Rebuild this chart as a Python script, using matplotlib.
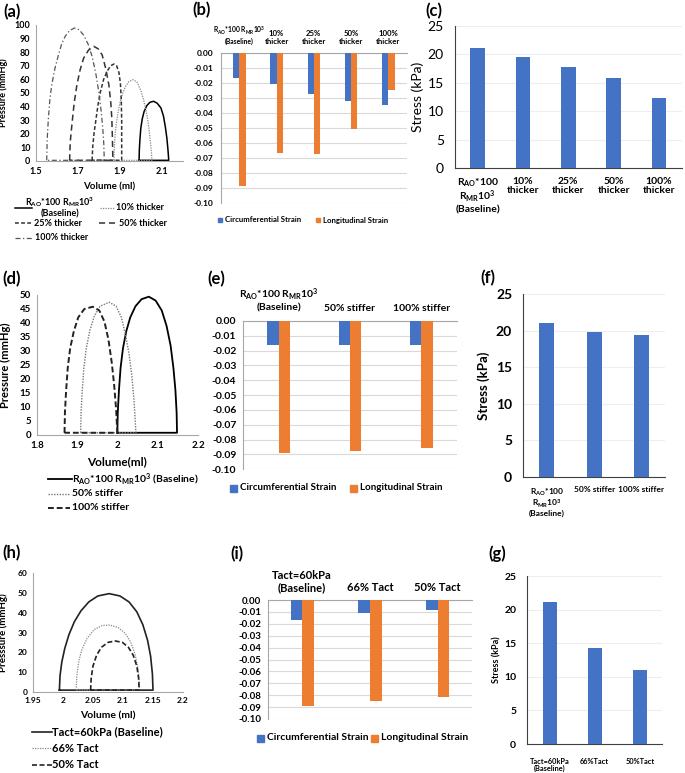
import matplotlib
matplotlib.use('Agg')
import matplotlib.pyplot as plt
from matplotlib.patches import Rectangle

plt.rcParams['font.family'] = ['Lato', 'DejaVu Sans']
plt.rcParams['mathtext.default'] = 'regular'

W, H = 685, 773
BLUE = '#4472C4'
ORANGE = '#ED7D31'
GRID = '#D9D9D9'
AXC = '#A6A6A6'

# (a) pv loops, wall thickness
a_base_v = [1.991, 1.992, 1.995, 1.999, 2.006, 2.015, 2.028, 2.043, 2.06, 2.077, 2.095, 2.107,
            2.116, 2.123, 2.128, 2.131, 2.132, 1.991]
a_base_p = [0.5, 8, 16, 24, 31, 36.5, 40.8, 43.2, 43.9, 42.5, 39, 33, 25, 17, 9, 3, 0.5, 0.5]
a_10_v = [1.871, 1.873, 1.877, 1.883, 1.891, 1.9, 1.911, 1.925, 1.942, 1.962, 1.981, 1.999,
          2.014, 2.027, 2.037, 2.045, 2.05, 2.052, 1.871]
a_10_p = [0.5, 10, 20, 28, 36, 43, 49, 54.5, 58.3, 59.8, 58, 52, 44, 35, 25, 14, 6, 0.5, 0.5]
a_25_v = [1.767, 1.77, 1.776, 1.785, 1.796, 1.807, 1.822, 1.839, 1.855, 1.871, 1.884, 1.895,
          1.902, 1.906, 1.908, 1.908, 1.908, 1.767]
a_25_p = [0.5, 10, 20, 30, 42, 51, 60, 66, 70, 71.3, 70, 65, 57, 45, 30, 15, 0.5, 0.5]
a_50_v = [1.66, 1.663, 1.671, 1.682, 1.695, 1.71, 1.727, 1.75, 1.775, 1.796, 1.815, 1.832,
          1.847, 1.856, 1.861, 1.864, 1.866, 1.66]
a_50_p = [0.5, 14, 26.7, 43, 56, 67, 75.7, 81.5, 84.3, 82.5, 78, 68, 56, 43, 31.6, 16, 0.5, 0.5]
a_100_v = [1.551, 1.553, 1.559, 1.566, 1.575, 1.59, 1.607, 1.622, 1.639, 1.66, 1.684, 1.706,
           1.727, 1.748, 1.767, 1.784, 1.799, 1.81, 1.818, 1.823, 1.825, 1.551]
a_100_p = [0.5, 15, 31.6, 45, 56, 68, 78, 86, 91.7, 96, 97.8, 96.5, 92.5, 86, 77, 65, 51, 37,
           24, 12, 0.5, 0.5]

# (d) pv loops, stiffness
d_base_v = [2.0, 2.001, 2.004, 2.008, 2.014, 2.022, 2.032, 2.045, 2.06, 2.078, 2.095, 2.11,
            2.122, 2.132, 2.139, 2.144, 2.147, 2.148, 2.0]
d_base_p = [0.8, 8, 16, 24, 31, 37, 42, 46, 48.5, 49.4, 48, 44.5, 39, 32, 24, 16, 8, 0.8, 0.8]
d_50_v = [1.909, 1.91, 1.913, 1.917, 1.923, 1.932, 1.943, 1.957, 1.98, 1.997, 2.01, 2.02,
          2.029, 2.036, 2.041, 2.044, 2.046, 1.909]
d_50_p = [0.8, 8, 16, 24, 31, 37.5, 42.5, 46, 47.4, 46, 42, 36, 29, 21, 13, 6, 0.8, 0.8]
d_100_v = [1.869, 1.87, 1.873, 1.877, 1.883, 1.892, 1.903, 1.918, 1.939, 1.955, 1.968, 1.978,
           1.986, 1.992, 1.997, 2.0, 1.869]
d_100_p = [0.8, 8, 16, 24, 31, 37, 42, 45, 45.8, 44.5, 40.5, 34, 26, 18, 9, 0.8, 0.8]

# (h) pv loops, active tension
h_base_v = [1.994, 1.995, 1.998, 2.003, 2.01, 2.019, 2.03, 2.043, 2.058, 2.077, 2.095, 2.11,
            2.123, 2.133, 2.141, 2.146, 2.149, 2.15, 1.994]
h_base_p = [0.8, 8, 15, 22, 29, 35.5, 41, 45.5, 48.5, 49.7, 48.5, 45.5, 40.5, 34, 26, 18, 9,
            0.8, 0.8]
h_66_v = [2.022, 2.023, 2.026, 2.031, 2.04, 2.052, 2.065, 2.078, 2.092, 2.104, 2.113, 2.12,
          2.125, 2.127, 2.127, 2.022]
h_66_p = [0.8, 8, 15, 21, 27, 31.5, 33.5, 33.8, 32.5, 29.5, 25, 19, 12, 5, 0.8, 0.8]
h_50_v = [2.046, 2.047, 2.05, 2.056, 2.064, 2.075, 2.087, 2.099, 2.109, 2.117, 2.123, 2.126,
          2.127, 2.046]
h_50_p = [0.8, 7, 13, 18.5, 22.5, 25, 25.7, 25, 22.5, 18.5, 13, 7, 0.8, 0.8]

# strain bars
b_cats = ['R$_{AO}$*100 R$_{MR}$10$^3$\n(Baseline)', '10%\nthicker', '25%\nthicker',
          '50%\nthicker', '100%\nthicker']
b_circ = [-0.0165, -0.0205, -0.027, -0.032, -0.0345]
b_long = [-0.089, -0.067, -0.0675, -0.051, -0.0245]
e_cats = ['R$_{AO}$*100 R$_{MR}$10$^3$\n(Baseline)', '50% stiffer', '100% stiffer']
e_circ = [-0.0165, -0.016, -0.016]
e_long = [-0.089, -0.0875, -0.0855]
i_cats = ['Tact=60kPa\n(Baseline)', '66% Tact', '50% Tact']
i_circ = [-0.0165, -0.011, -0.0085]
i_long = [-0.089, -0.085, -0.0815]

# stress bars
c_cats = ['R$_{AO}$*100\nR$_{MR}$10$^3$\n(Baseline)', '10%\nthicker', '25%\nthicker',
          '50%\nthicker', '100%\nthicker']
c_vals = [21.1, 19.6, 17.8, 15.8, 12.3]
f_cats = ['R$_{AO}$*100\nR$_{MR}$10$^3$\n(Baseline)', '50% stiffer', '100% stiffer']
f_vals = [21.1, 19.9, 19.4]
g_cats = ['Tact=60kPa\n(Baseline)', '66%Tact', '50%Tact']
g_vals = [21.1, 14.3, 11.0]


def box(l, t, r, b):
    return [l / W, 1 - b / H, (r - l) / W, (b - t) / H]


fig = plt.figure(figsize=(W / 100, H / 100), dpi=100)


def pv_axes(rect, xlim, xticks, xlabels, ylim, ystep, fs, lab, labfs, ylab_x):
    ax = fig.add_axes(box(*rect))
    ax.set_xlim(*xlim)
    ax.set_ylim(*ylim)
    ax.set_xticks(xticks)
    ax.set_xticklabels(xlabels, fontsize=fs, fontweight='bold')
    ax.set_yticks(range(ylim[0], ylim[1] + 1, ystep))
    ax.set_yticklabels([str(v) for v in range(ylim[0], ylim[1] + 1, ystep)],
                       fontsize=fs, fontweight='bold')
    ax.tick_params(length=0, pad=4)
    for s in ['top', 'right']:
        ax.spines[s].set_visible(False)
    for s in ['left', 'bottom']:
        ax.spines[s].set_color(AXC)
        ax.spines[s].set_linewidth(0.8)
    ax.set_xlabel(lab[0], fontsize=labfs, fontweight='bold', labelpad=5)
    ax.set_ylabel(lab[1], fontsize=labfs - 0.5, fontweight='bold')
    ax.yaxis.set_label_coords((ylab_x - rect[0]) / (rect[2] - rect[0]), 0.5)
    ax.patch.set_alpha(0)
    return ax


# (a)
ax = pv_axes((36, 25, 183, 161), (1.5, 2.2), [1.5, 1.7, 1.9, 2.1], ['1.5', '1.7', '1.9', '2.1'],
             (0, 100), 10, 6.5, ('Volume (ml)', 'Pressure (mmHg)'), 7, 8)
ax.plot(a_base_v, a_base_p, color='black', lw=1.1)
ax.plot(a_10_v, a_10_p, color='#888888', lw=0.9, ls=(0, (1, 1)))
ax.plot(a_25_v, a_25_p, color='#333333', lw=1.1, ls=(0, (2.5, 1.5)))
ax.plot(a_50_v, a_50_p, color='#333333', lw=1.1, ls=(0, (4, 2.5)))
ax.plot(a_100_v, a_100_p, color='#555555', lw=0.9, ls=(0, (4, 2, 1, 2)))

# (d)
ax = pv_axes((36.7, 295, 198, 435), (1.8, 2.2), [1.8, 1.9, 2.0, 2.1, 2.2],
             ['1.8', '1.9', '2', '2.1', '2.2'], (0, 50), 5, 7, ('Volume(ml)', 'Pressure (mmHg)'), 8.5, 11)
ax.plot(d_base_v, d_base_p, color='black', lw=1.3)
ax.plot(d_50_v, d_50_p, color='#777777', lw=1.0, ls=(0, (1, 1)))
ax.plot(d_100_v, d_100_p, color='#222222', lw=1.4, ls=(0, (3, 1.5)))

# (h)
ax = pv_axes((33, 573.3, 183, 691.7), (1.95, 2.2), [1.95, 2.0, 2.05, 2.1, 2.15, 2.2],
             ['1.95', '2', '2.05', '2.1', '2.15', '2.2'], (0, 60), 10, 6,
             ('Volume (ml)', 'Presssure (mmHg)'), 7.5, 8)
ax.plot(h_base_v, h_base_p, color='#222222', lw=1.2)
ax.plot(h_66_v, h_66_p, color='#888888', lw=0.9, ls=(0, (1, 1)))
ax.plot(h_50_v, h_50_p, color='#222222', lw=1.2, ls=(0, (3, 1.5)))


def strain_axes(rect, cats, circ, longi, w, tfs, cfs, pad):
    ax = fig.add_axes(box(*rect))
    n = len(cats)
    x = list(range(n))
    ax.bar([k - w / 2 for k in x], circ, width=w, color=BLUE, zorder=3)
    ax.bar([k + w / 2 for k in x], longi, width=w, color=ORANGE, zorder=3)
    ax.set_xlim(-0.5, n - 0.5)
    ax.set_ylim(-0.1, 0)
    yt = [-0.01 * k for k in range(11)]
    ax.set_yticks(yt)
    ax.set_yticklabels(['%.2f' % v if v != 0 else '0.00' for v in yt], fontsize=tfs, fontweight='bold')
    ax.yaxis.grid(True, color=GRID, lw=0.8, zorder=0)
    ax.xaxis.tick_top()
    ax.set_xticks(x)
    ax.set_xticklabels(cats, fontsize=cfs, fontweight='bold', linespacing=1.1)
    ax.tick_params(length=0)
    ax.tick_params(axis='x', pad=pad)
    ax.tick_params(axis='y', pad=5)
    ax.spines['top'].set_color(AXC)
    ax.spines['left'].set_color(AXC)
    ax.spines['right'].set_visible(False)
    ax.spines['bottom'].set_visible(False)
    return ax


ax = strain_axes((220.7, 53.3, 407, 202.7), b_cats, b_circ, b_long, 0.17, 6, 5.6, 6)
ax.get_xticklabels()[0].set_fontsize(4.9)
strain_axes((243.3, 321, 456.7, 469.3), e_cats, e_circ, e_long, 0.16, 7.5, 7.5, 6)
strain_axes((268.3, 600, 471.7, 719), i_cats, i_circ, i_long, 0.17, 7, 8, 5)


def stress_axes(rect, cats, vals, w, tfs, tw, cfs, yfs, yw, ylab_x, pad):
    ax = fig.add_axes(box(*rect))
    n = len(cats)
    ax.bar(range(n), vals, width=w, color=BLUE, zorder=3)
    ax.set_xlim(-0.5, n - 0.5)
    ax.set_ylim(0, 25)
    ax.set_yticks(range(0, 26, 5))
    ax.set_yticklabels([str(v) for v in range(0, 26, 5)], fontsize=tfs, fontweight=tw)
    ax.yaxis.grid(True, color='#EEEEEE', lw=0.8, zorder=0)
    ax.set_xticks(range(n))
    ax.set_xticklabels(cats, fontsize=cfs, fontweight='bold', linespacing=1.0, va='top')
    ax.tick_params(length=0)
    ax.tick_params(axis='x', pad=pad)
    ax.tick_params(axis='y', pad=8)
    ax.set_ylabel('Stress (kPa)', fontsize=yfs, fontweight=yw)
    ax.yaxis.set_label_coords((ylab_x - rect[0]) / (rect[2] - rect[0]), 0.5)
    for s in ['top', 'right']:
        ax.spines[s].set_visible(False)
    ax.spines['left'].set_color('#404040')
    ax.spines['bottom'].set_color('#404040')
    return ax


stress_axes((455, 26, 681.7, 168.3), c_cats, c_vals, 0.32, 10, 'normal', 7.5, 10, 'normal', 424, 6)
stress_axes((523.3, 294.3, 665, 476.7), f_cats, f_vals, 0.32, 10, 'bold', 6, 9.5, 'bold', 490, 7)
stress_axes((527.3, 576, 662.3, 744), g_cats, g_vals, 0.30, 7.5, 'bold', 5.3, 6.5, 'bold', 501, 10)

# overlay for legends and panel letters, pixel coordinates
lay = fig.add_axes([0, 0, 1, 1])
lay.set_xlim(0, W)
lay.set_ylim(H, 0)
lay.axis('off')
lay.patch.set_alpha(0)

for txt, x, y in [('(a)', 3, 12), ('(b)', 192, 10), ('(c)', 425, 11), ('(d)', 2, 279),
                  ('(e)', 207, 279), ('(f)', 480, 278), ('(h)', 2, 553), ('(i)', 230, 554),
                  ('(g)', 488, 554)]:
    lay.text(x, y, txt, fontsize=12, fontweight='bold', va='center', ha='left')

# legend (a)
lfs = 6.5
lay.plot([15, 32], [208, 208], color='black', lw=1.1)
lay.text(60, 207, 'R$_{AO}$*100 R$_{MR}$10$^3$\n(Baseline)', fontsize=lfs, fontweight='bold',
         ha='center', va='center', linespacing=1.1)
lay.plot([100, 115], [208, 208], color='#888888', lw=0.9, ls=(0, (1, 1)))
lay.text(116, 208, '10% thicker', fontsize=lfs, fontweight='bold', va='center')
lay.plot([15, 33], [223, 223], color='#333333', lw=1.1, ls=(0, (2.5, 1.5)))
lay.text(34, 223, '25% thicker', fontsize=lfs, fontweight='bold', va='center')
lay.plot([99, 118], [223, 223], color='#333333', lw=1.1, ls=(0, (4, 2.5)))
lay.text(119, 223, '50% thicker', fontsize=lfs, fontweight='bold', va='center')
lay.plot([15, 32], [238, 238], color='#555555', lw=0.9, ls=(0, (4, 2, 1, 2)))
lay.text(35, 238, '100% thicker', fontsize=lfs, fontweight='bold', va='center')

# legend (d)
lfs = 7.5
lay.plot([48, 72], [479, 479], color='black', lw=1.3)
lay.text(72, 479, 'R$_{AO}$*100 R$_{MR}$10$^3$ (Baseline)', fontsize=lfs, fontweight='bold', va='center')
lay.plot([48, 70], [494, 494], color='#777777', lw=1.0, ls=(0, (1, 1)))
lay.text(72, 494, '50% stiffer', fontsize=lfs, fontweight='bold', va='center')
lay.plot([48, 70], [508, 508], color='#222222', lw=1.4, ls=(0, (3, 1.5)))
lay.text(72, 508, '100% stiffer', fontsize=lfs, fontweight='bold', va='center')

# legend (h)
lfs = 8
lay.plot([32, 52], [732, 732], color='#222222', lw=1.2)
lay.text(52, 732, 'Tact=60kPa (Baseline)', fontsize=lfs, fontweight='bold', va='center')
lay.plot([32, 52], [748, 748], color='#888888', lw=0.9, ls=(0, (1, 1)))
lay.text(52, 748, '66% Tact', fontsize=lfs, fontweight='bold', va='center')
lay.plot([32, 52], [765, 765], color='#222222', lw=1.2, ls=(0, (3, 1.5)))
lay.text(52, 765, '50% Tact', fontsize=lfs, fontweight='bold', va='center')

# strain legends
for (x1, x2, y, sq, fs) in [(218, 316, 220, 4, 5.6), (230, 350, 488, 7, 7.1), (257, 371, 738, 7, 7.5)]:
    lay.add_patch(Rectangle((x1, y - sq / 2), sq, sq, color=BLUE))
    lay.text(x1 + sq + 3, y, 'Circumferential Strain', fontsize=fs, fontweight='bold', va='center')
    lay.add_patch(Rectangle((x2, y - sq / 2), sq, sq, color=ORANGE))
    lay.text(x2 + sq + 3, y, 'Longitudinal Strain', fontsize=fs, fontweight='bold', va='center')

fig.savefig('out.png', dpi=100)
